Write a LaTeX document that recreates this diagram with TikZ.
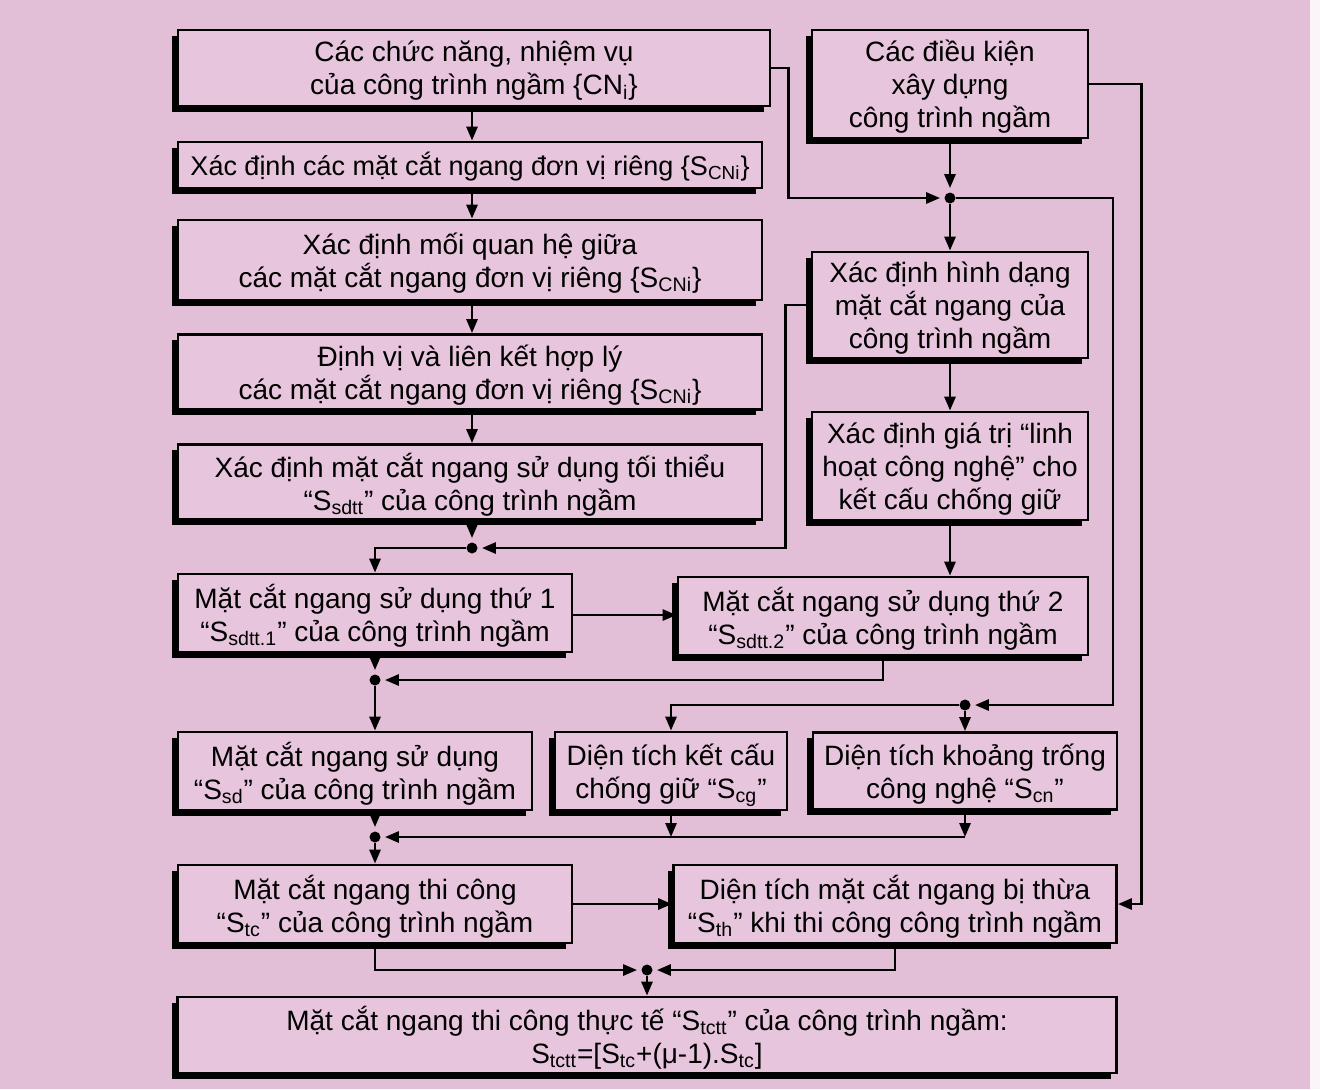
\documentclass[tikz,border=0pt]{standalone}
\usepackage{fontspec}
\setmainfont{Liberation Sans}
\usetikzlibrary{arrows.meta,shadows}
\definecolor{bgcol}{RGB}{227,190,215}
\definecolor{boxfill}{RGB}{231,197,220}
\begin{document}
\begin{tikzpicture}[x=0.5pt,y=-0.5pt,
  boxbase/.style={draw=black, line width=1.4pt, fill=boxfill, align=center, inner sep=0pt,
    font=\fontsize{14pt}{16.5pt}\selectfont,
    drop shadow={shadow xshift=-2.8pt,shadow yshift=-2.8pt,fill=black,opacity=1}},
  box/.style={boxbase, text depth=-3pt, execute at begin node={\rule{0pt}{18pt}}},
  arr/.style={line width=1.4pt, -{Triangle[length=7pt,width=5.5pt]}},
  tojn/.style={arr, shorten >=2pt},
  jdot/.style={circle, fill=black, inner sep=0pt, minimum size=5.5pt}
]
\useasboundingbox (0,0) rectangle (1320,1089);
\fill[bgcol] (0,0) rectangle (1320,1089);
\fill[white!85!bgcol] (1310,0) rectangle (1320,1089);

% boxes
\node[box, minimum width=296pt, minimum height=38pt] (B1) at (474,68)
  {Các chức năng, nhiệm vụ\\của công trình ngầm \{CN\textsubscript{i}\}};
\node[boxbase, minimum width=292pt, minimum height=23pt, text depth=1.5pt,
      font=\fontsize{13.5pt}{16.5pt}\selectfont] (B2) at (470,165)
  {Xác định các mặt cắt ngang đơn vị riêng \{S\textsubscript{CNi}\}};
\node[box, minimum width=292pt, minimum height=40pt] (B3) at (470,260)
  {Xác định mối quan hệ giữa\\các mặt cắt ngang đơn vị riêng \{S\textsubscript{CNi}\}};
\node[box, minimum width=292pt, minimum height=37.5pt] (B4) at (470,372)
  {Định vị và liên kết hợp lý\\các mặt cắt ngang đơn vị riêng \{S\textsubscript{CNi}\}};
\node[box, minimum width=292pt, minimum height=37.5pt] (B5) at (470,482)
  {Xác định mặt cắt ngang sử dụng tối thiểu\\“S\textsubscript{sdtt}” của công trình ngầm};
\node[box, minimum width=138pt, minimum height=54pt] (R1) at (950,84)
  {Các điều kiện\\xây dựng\\công trình ngầm};
\node[box, minimum width=138pt, minimum height=53pt] (R2) at (950,305)
  {Xác định hình dạng\\mặt cắt ngang của\\công trình ngầm};
\node[box, minimum width=138pt, minimum height=54pt] (R3) at (950,466)
  {Xác định giá trị “linh\\hoạt công nghệ” cho\\kết cấu chống giữ};
\node[box, minimum width=197pt, minimum height=39pt] (B6) at (375,613)
  {Mặt cắt ngang sử dụng thứ 1\\“S\textsubscript{sdtt.1}” của công trình ngầm};
\node[box, minimum width=205pt, minimum height=39pt] (B7) at (883,616)
  {Mặt cắt ngang sử dụng thứ 2\\“S\textsubscript{sdtt.2}” của công trình ngầm};
\node[box, minimum width=177pt, minimum height=39pt] (B8) at (355,771)
  {Mặt cắt ngang sử dụng\\“S\textsubscript{sd}” của công trình ngầm};
\node[box, minimum width=116pt, minimum height=39pt] (B9) at (671,771)
  {Diện tích kết cấu\\chống giữ “S\textsubscript{cg}”};
\node[box, minimum width=152pt, minimum height=38.5pt] (B10) at (965,771)
  {Diện tích khoảng trống\\công nghệ “S\textsubscript{cn}”};
\node[box, minimum width=197pt, minimum height=39pt] (B11) at (375,904)
  {Mặt cắt ngang thi công\\“S\textsubscript{tc}” của công trình ngầm};
\node[box, minimum width=221.5pt, minimum height=39pt] (B12) at (895,904)
  {Diện tích mặt cắt ngang bị thừa\\“S\textsubscript{th}” khi thi công công trình ngầm};
\node[box, minimum width=469.5pt, minimum height=38pt] (B13) at (647,1035)
  {Mặt cắt ngang thi công thực tế “S\textsubscript{tctt}” của công trình ngầm:\\S\textsubscript{tctt}=[S\textsubscript{tc}+(μ-1).S\textsubscript{tc}]};

% junctions
\node[jdot] (J1) at (950,198) {};
\node[jdot] (J2) at (472,548) {};
\node[jdot] (J3) at (375,680) {};
\node[jdot] (J4) at (375,837) {};
\node[jdot] (J5) at (965,705) {};
\node[jdot] (J6) at (647,970) {};

% main column
\draw[arr] (B1.south -| J2) -- (B2.north -| J2);
\draw[arr] (B2.south -| J2) -- (B3.north -| J2);
\draw[arr] (B3.south -| J2) -- (B4.north -| J2);
\draw[arr] (B4.south -| J2) -- (B5.north -| J2);
\draw[tojn] (B5.south -| J2) -- (J2);

% top right
\draw[tojn] (B1.east) -- ++(17,0) |- (J1);
\draw[tojn] (R1.south) -- (J1);
\draw[arr] (J1) -- (R2.north);
\draw[tojn] (J1) -- ++(163,0) |- (J5);
\draw[arr] (R1.east) -- ++(52,0) |- (B12.east);
\draw[tojn] (R2.west) -- ++(-25,0) |- (J2);
\draw[arr] (R2) -- (R3);
\draw[arr] (R3.south) -- (B7.north -| R3);

% middle
\draw[arr] (J2) -| (B6.north);
\draw[arr] (B6.east |- 0,615) -- (B7.west |- 0,615);
\draw[tojn] (B6.south) -- (J3);
\draw[tojn] (B7.south) |- (J3);
\draw[arr] (J3) -- (J3 |- B8.north);

% lower
\draw[arr] (J5) -- (B10.north);
\draw[arr] (J5) -| (B9.north);
\draw[tojn] (B8.south -| J4) -- (J4);
\draw[arr] (B9.south) -- (B9.south |- J4);
\draw[arr] (B10.south) -- (B10.south |- J4);
\draw[tojn] (B10.south |- J4) -- (J4);
\draw[arr] (J4) -- (B11.north -| J4);
\draw[arr] (B11.east) -- (B12.west |- B11.east);
\draw[tojn] (B11.south) |- (J6);
\draw[tojn] (B12.south) |- (J6);
\draw[arr] (J6) -- (B13.north -| J6);
\end{tikzpicture}
\end{document}
